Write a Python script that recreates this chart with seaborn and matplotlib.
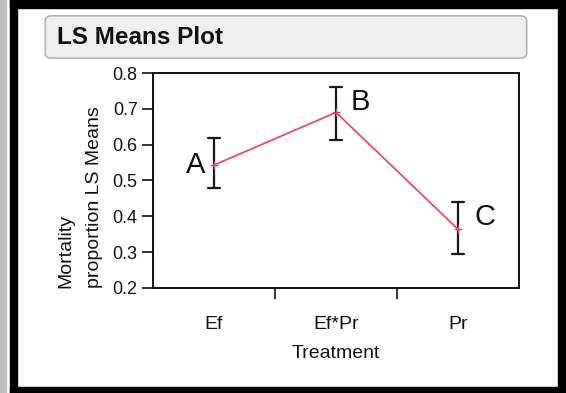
import numpy as np
import pandas as pd
import matplotlib
matplotlib.use("Agg")
import matplotlib.pyplot as plt
from matplotlib.patches import Rectangle, FancyBboxPatch
import seaborn as sns

# ---- data ----
treatments = ["Ef", "Ef*Pr", "Pr"]
ls_means = [0.543, 0.690, 0.364]
lower_ci = [0.478, 0.613, 0.295]
upper_ci = [0.618, 0.760, 0.441]
letters = ["A", "B", "C"]
y_ticks = [0.2, 0.3, 0.4, 0.5, 0.6, 0.7, 0.8]

sns.set_theme(style="white")
plt.rcParams["font.family"] = ["Liberation Sans", "DejaVu Sans"]

# long format: lower, mean, upper per treatment; median = mean, 100% interval = CI
df = pd.DataFrame({
    "Treatment": np.repeat(treatments, 3),
    "value": np.ravel(np.column_stack([lower_ci, ls_means, upper_ci])),
})

W, H = 566, 393
fig = plt.figure(figsize=(W / 100, H / 100), dpi=100)
fig.patch.set_facecolor("white")

# frame
fig.patches.append(Rectangle((0, 0), 6 / W, 1, transform=fig.transFigure, color="#c0c0c0", zorder=0))
for (x0, y0, w, h) in [(10, 0, 7, H), (10, 0, W - 10, 8), (558, 0, 8, H), (10, 387, W - 10, 6)]:
    fig.patches.append(Rectangle((x0 / W, 1 - (y0 + h) / H), w / W, h / H,
                                 transform=fig.transFigure, color="black", zorder=0))
# title box
fig.patches.append(FancyBboxPatch((47 / W, 1 - 57 / H), 478 / W, 40 / H,
                                  boxstyle="round,pad=0.003,rounding_size=0.012",
                                  transform=fig.transFigure, facecolor="#efefef",
                                  edgecolor="#b4b4b4", linewidth=1.2, zorder=1))
fig.text(57 / W, 1 - 37 / H, "LS Means Plot", fontsize=17.5, fontweight="bold",
         color="#111111", ha="left", va="center", zorder=2)

ax = fig.add_axes([153 / W, 1 - 288 / H, 366 / W, 215 / H])
sns.pointplot(data=df, x="Treatment", y="value", order=treatments,
              estimator="median", errorbar=("pi", 100), capsize=0.1,
              color="#f43c64", markers="+", markersize=6, linewidth=1.2,
              err_kws={"color": "#1a1a1a", "linewidth": 1.6, "zorder": 1},
              ax=ax)
for line in ax.lines:
    if line.get_marker() == "+":
        line.set_zorder(3)

ax.set_ylim(0.2, 0.8)
ax.set_xlim(-0.5, 2.5)
ax.set_yticks(y_ticks)
ax.set_yticklabels([f"{t:.1f}" for t in y_ticks], fontsize=13)
ax.set_xticks(range(len(treatments)))
ax.set_xticklabels(treatments, fontsize=14)
ax.set_xticks([0.5, 1.5], minor=True)
ax.tick_params(axis="x", which="major", length=0, pad=20, colors="#111111")
ax.tick_params(axis="x", which="minor", bottom=True, length=8, width=1.2, color="#111111")
ax.tick_params(axis="y", which="major", left=True, length=8, width=1.2, pad=3, colors="#111111")

for s in ax.spines.values():
    s.set_visible(True)
    s.set_color("#111111")
    s.set_linewidth(1.4)

ax.set_xlabel("Treatment", fontsize=14, color="#111111", labelpad=9)
ax.set_ylabel("Mortality\nproportion LS Means", fontsize=14, color="#111111",
              loc="bottom", linespacing=1.9)
ax.yaxis.set_label_coords(-0.137, 0)

# letter annotations
offsets = [(-0.15, 0.0), (0.2, 0.03), (0.22, 0.035)]
for i, (lab, m) in enumerate(zip(letters, ls_means)):
    dx, dy = offsets[i]
    ax.text(i + dx, m + dy, lab, fontsize=21, ha="center", va="center", color="#111111")

fig.savefig("out.png", dpi=100)
